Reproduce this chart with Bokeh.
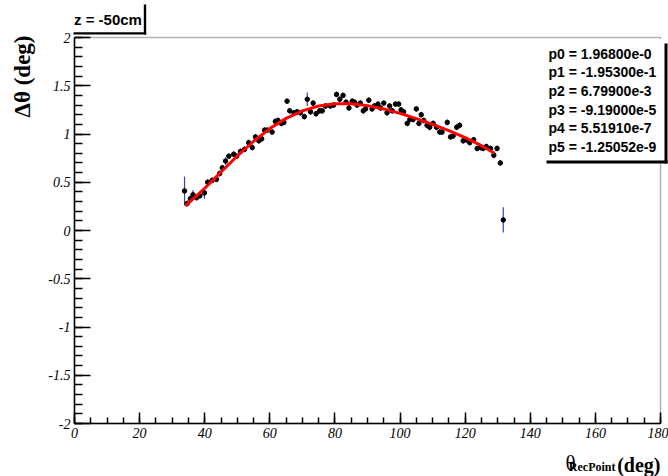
from math import pi
from bokeh.plotting import figure
from bokeh.models import (Range1d, FixedTicker, CustomJSTickFormatter, Label,
                          BoxAnnotation, ColumnDataSource)
from bokeh.embed import file_html
from bokeh.resources import INLINE

# ---------------- data ----------------
theta = [33.8, 34.6, 35.6, 36.4, 37.5, 38.5, 39.9, 40.9, 42.3, 43.6,
         44.6, 45.4, 46.4, 47.4, 48.9, 49.8, 51.0, 52.2, 53.5, 54.6,
         55.6, 56.6, 57.5, 58.4, 59.2, 60.7, 61.7, 62.5, 63.5, 64.3,
         65.3, 66.1, 67.4, 68.4, 69.4, 70.6, 71.5, 72.5, 73.3, 74.2,
         75.3, 76.1, 77.1, 78.6, 79.6, 80.5, 81.5, 82.5, 83.4, 84.3,
         85.3, 86.0, 86.8, 87.8, 88.7, 89.4, 90.4, 91.4, 92.1, 93.2,
         94.0, 95.0, 96.0, 96.8, 97.6, 98.6, 99.6, 100.3, 101.1, 102.2,
         103.0, 104.0, 105.0, 105.8, 106.5, 107.3, 108.3, 109.1, 110.2, 111.2,
         112.2, 112.9, 114.5, 115.5, 116.3, 117.4, 118.3, 119.4, 120.4, 121.4,
         122.6, 123.7, 124.7, 125.5, 126.5, 127.8, 128.8, 129.8, 130.8, 131.7]
dtheta = [0.41, 0.28, 0.33, 0.37, 0.34, 0.36, 0.39, 0.50, 0.52, 0.53,
          0.59, 0.65, 0.72, 0.77, 0.79, 0.77, 0.82, 0.84, 0.91, 0.86,
          0.97, 0.93, 0.95, 1.04, 1.04, 1.02, 1.13, 1.14, 1.11, 1.12,
          1.34, 1.24, 1.22, 1.23, 1.22, 1.18, 1.36, 1.23, 1.32, 1.21,
          1.24, 1.24, 1.29, 1.29, 1.30, 1.41, 1.36, 1.40, 1.33, 1.27,
          1.34, 1.33, 1.30, 1.32, 1.24, 1.26, 1.35, 1.26, 1.29, 1.31,
          1.27, 1.32, 1.22, 1.29, 1.24, 1.31, 1.31, 1.25, 1.23, 1.11,
          1.15, 1.15, 1.26, 1.11, 1.20, 1.14, 1.09, 1.07, 1.11, 1.07,
          1.02, 1.02, 1.12, 0.97, 0.98, 1.07, 1.09, 0.93, 0.94, 0.91,
          0.94, 0.85, 0.86, 0.85, 0.87, 0.85, 0.78, 0.85, 0.70, 0.11]
dtheta_err = [0.15, 0.03, 0.03, 0.05, 0.03, 0.03, 0.06, 0.03, 0.03, 0.03,
              0.03, 0.03, 0.04, 0.03, 0.03, 0.03, 0.03, 0.03, 0.03, 0.03,
              0.03, 0.03, 0.03, 0.03, 0.03, 0.03, 0.03, 0.03, 0.03, 0.03,
              0.03, 0.03, 0.03, 0.03, 0.03, 0.03, 0.07, 0.03, 0.03, 0.03,
              0.03, 0.03, 0.03, 0.03, 0.03, 0.03, 0.03, 0.03, 0.03, 0.03,
              0.03, 0.03, 0.03, 0.03, 0.03, 0.03, 0.03, 0.03, 0.03, 0.03,
              0.03, 0.03, 0.03, 0.03, 0.03, 0.03, 0.03, 0.03, 0.03, 0.03,
              0.03, 0.03, 0.03, 0.03, 0.03, 0.03, 0.03, 0.03, 0.03, 0.03,
              0.03, 0.03, 0.03, 0.03, 0.03, 0.03, 0.03, 0.03, 0.03, 0.03,
              0.03, 0.03, 0.03, 0.03, 0.03, 0.03, 0.03, 0.03, 0.03, 0.13]

# fitted pol5 curve
fit_theta = [34, 35, 40, 45, 50, 55, 60, 65, 70, 75, 80, 85, 90, 95,
             100, 105, 110, 115, 120, 125, 129]
fit_dtheta = [0.256, 0.284, 0.438, 0.606, 0.772, 0.925, 1.056, 1.162, 1.240,
              1.290, 1.313, 1.314, 1.294, 1.260, 1.214, 1.160, 1.099, 1.034,
              0.962, 0.879, 0.800]

fit_params = ["p0 = 1.96800e-0", "p1 = -1.95300e-1", "p2 = 6.79900e-3",
              "p3 = -9.19000e-5", "p4 = 5.51910e-7", "p5 = -1.25052e-9"]

title_text = "z = -50cm"
y_title = "\u0394\u03b8 (deg)"
x_title_main = "\u03b8"
x_title_sub = "RecPoint"
x_title_unit = "(deg)"

X_MIN, X_MAX = 0, 180
Y_MIN, Y_MAX = -2, 2
x_major = [0, 20, 40, 60, 80, 100, 120, 140, 160, 180]
x_minor = list(range(0, 181, 5))
y_major = [-2, -1.5, -1, -0.5, 0, 0.5, 1, 1.5, 2]
y_minor = [round(-2 + 0.1 * i, 1) for i in range(41)]

# ---------------- layout (canvas pixels) ----------------
W, H = 668, 476
FL, FR, FT, FB = 74, 660, 37, 423   # where the axis box sits on the canvas

# whole canvas is the bokeh frame; the axes are pinned to the box edges
xs = (FR - FL) / (X_MAX - X_MIN)
ys = (FB - FT) / (Y_MAX - Y_MIN)
x_range = Range1d(X_MIN - FL / xs, X_MAX + (W - FR) / xs)
y_range = Range1d(Y_MIN - (H - FB) / ys, Y_MAX + FT / ys)


def sx(cx):
    return cx


def sy(cy):
    return H - cy


p = figure(width=W, height=H, x_range=x_range, y_range=y_range,
           output_backend="svg", toolbar_location=None,
           min_border=0, min_border_left=0, min_border_right=0,
           min_border_top=0, min_border_bottom=0)
p.title.visible = False
p.xgrid.visible = False
p.ygrid.visible = False
p.background_fill_color = "white"
p.border_fill_color = "white"
p.outline_line_color = None

fmt = CustomJSTickFormatter(code="return String(tick);")
for ax in (p.xaxis[0], p.yaxis[0]):
    ax.axis_line_width = 1.5
    ax.axis_line_color = "black"
    ax.major_tick_line_width = 1.5
    ax.minor_tick_line_width = 1.5
    ax.major_tick_line_color = "black"
    ax.minor_tick_line_color = "black"
    ax.major_tick_out = 0
    ax.minor_tick_out = 0
    ax.major_label_text_font = "Liberation Serif"
    ax.major_label_text_font_style = "italic"
    ax.major_label_text_font_size = "14px"
    ax.major_label_text_color = "black"
    ax.major_label_standoff = 4
    ax.formatter = fmt
    ax.axis_label = None

p.xaxis[0].ticker = FixedTicker(ticks=x_major, minor_ticks=x_minor)
p.yaxis[0].ticker = FixedTicker(ticks=y_major, minor_ticks=y_minor)
p.xaxis[0].fixed_location = Y_MIN
p.yaxis[0].fixed_location = X_MIN
p.xaxis[0].bounds = (X_MIN, X_MAX)
p.yaxis[0].bounds = (Y_MIN, Y_MAX)
p.xaxis[0].major_tick_in = 11
p.xaxis[0].minor_tick_in = 6
p.yaxis[0].major_tick_in = 16
p.yaxis[0].minor_tick_in = 8

# axis box (ROOT frame)
p.add_layout(BoxAnnotation(left=X_MIN, right=X_MAX, bottom=Y_MIN, top=Y_MAX,
                           fill_color=None, line_color="black",
                           line_width=1.5, level="underlay"))

# ---------------- glyphs ----------------
src = ColumnDataSource(dict(
    x=theta, y=dtheta,
    lo=[v - e for v, e in zip(dtheta, dtheta_err)],
    hi=[v + e for v, e in zip(dtheta, dtheta_err)],
))
p.segment(x0="x", y0="lo", x1="x", y1="hi", source=src,
          line_color="#3442b0", line_width=1.2)
p.scatter(x="x", y="y", source=src, marker="circle", size=4.5,
          fill_color="black", line_color="black")
p.line(fit_theta, fit_dtheta, line_color="#ff0000", line_width=3)


# ---------------- helpers ----------------
def box(l, r, t, b, color):
    return BoxAnnotation(left=sx(l), right=sx(r), top=sy(t), bottom=sy(b),
                         left_units="screen", right_units="screen",
                         top_units="screen", bottom_units="screen",
                         fill_color=color, fill_alpha=1.0, line_color=None)


def label(cx, cy, text, size, font="Liberation Sans", style="bold",
          align="left", baseline="middle", angle=0.0):
    return Label(x=sx(cx), y=sy(cy), x_units="screen", y_units="screen",
                 text=text, text_align=align, text_baseline=baseline,
                 text_font=font, text_font_style=style,
                 text_font_size=size, text_color="black", angle=angle)


# ---------------- title pave ----------------
p.add_layout(box(143.3, 145.7, 4, 34, "black"))
p.add_layout(box(73, 145.7, 31.7, 34, "black"))
p.add_layout(label(73.5, 18.5, title_text, "15px"))

# ---------------- stats pave ----------------
p.add_layout(box(543, 664, 38.5, 160, "white"))
p.add_layout(box(664, 667, 43, 163, "black"))
p.add_layout(box(546, 667, 160, 163, "black"))
for i, t in enumerate(fit_params):
    p.add_layout(label(548, 53.3 + 18.6 * i, t, "14px"))

# ---------------- axis titles ----------------
p.add_layout(label(22, 35, y_title, "23px", font="Liberation Serif",
                   align="right", angle=pi / 2))
p.add_layout(label(660, 464, x_title_unit, "20px", font="Liberation Serif",
                   align="right", baseline="alphabetic"))
p.add_layout(label(615, 466, x_title_sub, "12px", font="Liberation Serif",
                   align="right", baseline="alphabetic"))
p.add_layout(label(575, 462, x_title_main, "21px", font="Liberation Serif",
                   style="normal", align="right", baseline="alphabetic"))

open("out.html", "w").write(file_html(p, INLINE))
